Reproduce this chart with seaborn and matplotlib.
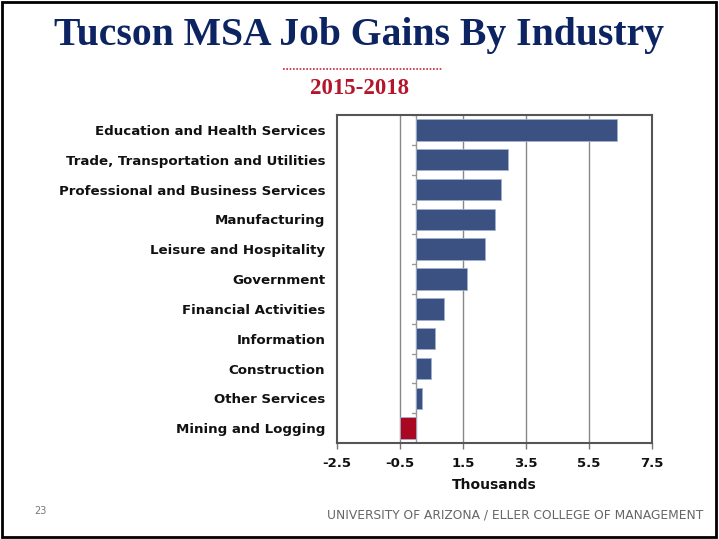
import matplotlib
matplotlib.use("Agg")
import matplotlib.pyplot as plt
import matplotlib.patches as mpatches
import seaborn as sns
import pandas as pd

categories = [
    "Education and Health Services",
    "Trade, Transportation and Utilities",
    "Professional and Business Services",
    "Manufacturing",
    "Leisure and Hospitality",
    "Government",
    "Financial Activities",
    "Information",
    "Construction",
    "Other Services",
    "Mining and Logging",
]
values = [6.40, 2.92, 2.71, 2.51, 2.20, 1.62, 0.91, 0.61, 0.50, 0.21, -0.51]
x_ticks = [-2.5, -0.5, 1.5, 3.5, 5.5, 7.5]
x_ticklabels = ["-2.5", "-0.5", "1.5", "3.5", "5.5", "7.5"]

title = "Tucson MSA Job Gains By Industry"
subtitle = "2015-2018"
xlabel = "Thousands"
page_no = "23"
footer = "UNIVERSITY OF ARIZONA / ELLER COLLEGE OF MANAGEMENT"

navy = "#3a5181"
red = "#aa0820"
colors = [red if v < 0 else navy for v in values]

sns.set_theme(style="white")
plt.rcParams["font.family"] = ["DejaVu Sans"]

df = pd.DataFrame({"industry": categories, "value": values})

fig = plt.figure(figsize=(7.19, 5.39), dpi=100)
ax = fig.add_axes([0.4687, 0.178, 0.4381, 0.6086])

sns.barplot(data=df, x="value", y="industry", hue="industry",
            palette=colors, orient="h", width=0.72, legend=False,
            saturation=1, edgecolor="#9fb0d0", linewidth=0.6, ax=ax, zorder=3)

ax.set_xlim(-2.5, 7.5)
ax.set_ylim(len(categories) - 0.5, -0.5)
ax.set_xticks(x_ticks)
ax.set_xticklabels(x_ticklabels, fontsize=9.5, fontweight="bold", color="#111111")
ax.tick_params(axis="x", which="both", bottom=True, length=4, width=1,
               color="#777777", pad=6, direction="out")
ax.tick_params(axis="y", length=0, pad=8.5)
for lab in ax.get_yticklabels():
    lab.set_fontsize(9.6)
    lab.set_fontweight("bold")
    lab.set_color("#111111")

for xv in x_ticks[1:-1]:
    ax.axvline(xv, color="#888888", lw=1.0, zorder=1)
ax.axvline(0, color="#999999", lw=1.0, zorder=2)

# category separator ticks at the zero axis
for i in range(len(categories)):
    yb = i - 0.5
    ax.plot([-0.13, 0], [yb, yb], color="#999999", lw=1.0, zorder=2,
            clip_on=False)

for s in ax.spines.values():
    s.set_visible(True)
    s.set_color("#555555")
    s.set_linewidth(1.5)

ax.set_xlabel(xlabel, fontsize=10, fontweight="bold", color="#111111", labelpad=6)
ax.set_ylabel("")

fig.text(0.5, 1 - 35 / 539, title, ha="center", va="center", fontsize=28.5,
         fontweight="bold", color="#0d2463", family=["Liberation Serif"])
fig.add_artist(plt.Line2D([283 / 719, 442 / 719], [1 - 69 / 539, 1 - 69 / 539],
                          transform=fig.transFigure, color="#c0283a",
                          lw=1.2, linestyle=(0, (1, 1))))
fig.text(0.5, 1 - 89 / 539, subtitle, ha="center", va="center", fontsize=16.5,
         fontweight="bold", color="#b5152b", family=["Liberation Serif"])

fig.text(40 / 719, 1 - 511 / 539, page_no, ha="center", va="center",
         fontsize=7, color="#777777")
fig.text(703 / 719, 1 - 515 / 539, footer, ha="right", va="center",
         fontsize=8.85, color="#666666")

fig.add_artist(mpatches.Rectangle((0.003, 0.004), 0.993, 0.992,
                                  transform=fig.transFigure, fill=False,
                                  edgecolor="black", lw=2))

fig.savefig("out.png", dpi=100)
